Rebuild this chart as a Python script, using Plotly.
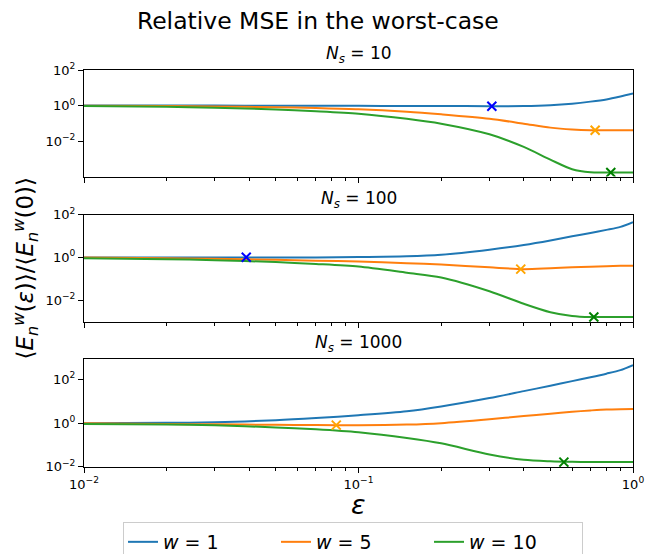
import plotly.graph_objects as go

# ---------------- data ----------------
eps = [0.01, 0.02, 0.03, 0.05, 0.07, 0.1, 0.15, 0.2, 0.3, 0.4, 0.5, 0.6, 0.7, 0.8, 0.9, 1.0]

# N_s = 10
ns10_w1 = [1.0, 1.0, 0.99, 0.98, 0.97, 0.96, 0.95, 0.94, 0.92, 0.94, 1.05, 1.28, 1.66, 2.2, 3.2, 4.7]
ns10_w5 = [0.98, 0.93, 0.88, 0.80, 0.72, 0.62, 0.45, 0.32, 0.18, 0.095, 0.057, 0.045, 0.041, 0.041, 0.041, 0.041]
ns10_w10 = [0.93, 0.85, 0.75, 0.60, 0.48, 0.35, 0.18, 0.095, 0.024, 0.0047, 9e-4, 2.6e-4, 1.75e-4, 1.7e-4, 1.7e-4, 1.7e-4]

# N_s = 100
ns100_w1 = [1.0, 1.0, 1.0, 1.0, 1.0, 1.03, 1.12, 1.33, 2.3, 3.8, 6.2, 9.7, 14.0, 19.5, 27, 45]
ns100_w5 = [0.98, 0.92, 0.86, 0.77, 0.70, 0.64, 0.53, 0.46, 0.34, 0.28, 0.31, 0.34, 0.36, 0.38, 0.40, 0.41]
ns100_w10 = [0.90, 0.82, 0.74, 0.60, 0.49, 0.37, 0.19, 0.115, 0.026, 0.0067, 0.0027, 0.0018, 0.0016, 0.0016, 0.0016, 0.0016]

# N_s = 1000
ns1000_w1 = [1.0, 1.03, 1.1, 1.35, 1.7, 2.3, 3.5, 5.8, 14, 29, 51, 83, 125, 182, 265, 450]
ns1000_w5 = [0.98, 0.92, 0.88, 0.84, 0.82, 0.80, 0.86, 1.0, 1.5, 2.1, 2.7, 3.3, 3.8, 4.2, 4.35, 4.4]
ns1000_w10 = [0.92, 0.86, 0.80, 0.64, 0.52, 0.38, 0.21, 0.12, 0.037, 0.021, 0.018, 0.017, 0.0166, 0.0166, 0.0166, 0.0166]

# worst-case markers (eps, value)
mark10_x = [0.306, 0.728, 0.83]
mark10_y = [0.92, 0.041, 1.7e-4]
mark100_x = [0.039, 0.39, 0.72]
mark100_y = [1.02, 0.28, 0.0016]
mark1000_x = [0.083, 0.56]
mark1000_y = [0.81, 0.0166]

panel_titles = ["<i>N<sub>s</sub></i> = 10", "<i>N<sub>s</sub></i> = 100", "<i>N<sub>s</sub></i> = 1000"]
legend_names = ["<i>w</i> = 1", "<i>w</i> = 5", "<i>w</i> = 10"]
x_tickvals = [0.01, 0.1, 1.0]
x_ticktext = ["10<sup>−2</sup>", "10<sup>−1</sup>", "10<sup>0</sup>"]
y_tickvals = [0.01, 1.0, 100.0]
y_ticktext = ["10<sup>−2</sup>", "10<sup>0</sup>", "10<sup>2</sup>"]

line_colors = ["#1f77b4", "#ff7f0e", "#2ca02c"]

panels = [
    ([ns10_w1, ns10_w5, ns10_w10], (mark10_x, mark10_y, ["blue", "orange", "green"]), [-4.0, 2.0]),
    ([ns100_w1, ns100_w5, ns100_w10], (mark100_x, mark100_y, ["blue", "orange", "green"]), [-3.03, 2.0]),
    ([ns1000_w1, ns1000_w5, ns1000_w10], (mark1000_x, mark1000_y, ["orange", "green"]), [-2.004, 2.93]),
]

domains = [[0.7315, 1.0], [0.3652, 0.6355], [0.0, 0.272]]

fig = go.Figure()
for i, (series, marks, yr) in enumerate(panels):
    xa = "x" if i == 0 else f"x{i+1}"
    ya = "y" if i == 0 else f"y{i+1}"
    for j, ys in enumerate(series):
        fig.add_trace(go.Scatter(
            x=eps, y=ys, mode="lines", xaxis=xa, yaxis=ya,
            line=dict(color=line_colors[j], width=2, shape="spline", smoothing=0.8),
            name=legend_names[j], showlegend=(i == 0), legendgroup=str(j),
        ))
    mx, my, mc = marks
    fig.add_trace(go.Scatter(
        x=mx, y=my, mode="markers", xaxis=xa, yaxis=ya, showlegend=False,
        marker=dict(symbol="x-thin", size=9, color=mc, line=dict(width=2, color=mc)),
    ))

minor_vals = [k * 10.0 ** e for e in (-2, -1) for k in range(2, 10)]
tickfont = dict(family="DejaVu Sans", size=13, color="black")

layout = dict(
    width=646, height=554,
    margin=dict(l=84, r=13, t=70, b=87, autoexpand=False),
    paper_bgcolor="white", plot_bgcolor="white",
    font=dict(family="DejaVu Sans", color="black"),
    title=dict(text="Relative MSE in the worst-case", x=0.492, xanchor="center",
               y=1 - 21 / 554, yanchor="middle", yref="container",
               font=dict(size=23.5, family="DejaVu Sans", color="black")),
    showlegend=True,
    legend=dict(orientation="h", x=0.49, xanchor="center", y=-0.1385, yanchor="top",
                xref="paper", yref="paper",
                font=dict(size=19, family="DejaVu Sans", color="black"),
                bordercolor="#cccccc", borderwidth=1, bgcolor="white",
                entrywidth=108, entrywidthmode="pixels"),
)

annotations = []
for i in range(3):
    xk = "xaxis" if i == 0 else f"xaxis{i+1}"
    yk = "yaxis" if i == 0 else f"yaxis{i+1}"
    ya = "y" if i == 0 else f"y{i+1}"
    layout[xk] = dict(
        type="log", range=[-2, 0], domain=[0, 1], anchor=ya, automargin=False,
        showline=True, mirror=True, linecolor="black", linewidth=1,
        showgrid=False, zeroline=False,
        ticks="outside", ticklen=5, tickwidth=1, tickcolor="black",
        tickvals=x_tickvals, ticktext=x_ticktext,
        showticklabels=(i == 2), tickfont=tickfont,
        minor=dict(tickvals=minor_vals, ticks="outside", ticklen=3, tickwidth=1,
                   tickcolor="black", showgrid=False),
    )
    if i > 0:
        layout[xk]["matches"] = "x"
    layout[yk] = dict(
        type="log", range=panels[i][2], domain=domains[i], anchor="x" if i == 0 else f"x{i+1}",
        automargin=False,
        showline=True, mirror=True, linecolor="black", linewidth=1,
        showgrid=False, zeroline=False,
        ticks="outside", ticklen=5, tickwidth=1, tickcolor="black",
        tickvals=y_tickvals, ticktext=y_ticktext, tickfont=tickfont,
    )
    annotations.append(dict(
        text=panel_titles[i], xref="paper", yref="paper", x=0.5, y=domains[i][1],
        xanchor="center", yanchor="bottom", yshift=2, showarrow=False,
        font=dict(size=17, family="DejaVu Sans", color="black"),
    ))

annotations.append(dict(
    text="⟨<i>E<sub>n</sub><sup>w</sup></i>(<i>ε</i>)⟩/⟨<i>E<sub>n</sub><sup>w</sup></i>(0)⟩",
    xref="paper", yref="paper", x=(25 - 84) / 549, y=0.5, xanchor="center", yanchor="middle",
    textangle=-90, showarrow=False, font=dict(size=23, family="DejaVu Sans", color="black"),
))
annotations.append(dict(
    text="<i>ε</i>", xref="paper", yref="paper", x=0.5, y=(467 - 505) / 397,
    xanchor="center", yanchor="middle", showarrow=False,
    font=dict(size=27, family="DejaVu Sans", color="black"),
))
layout["annotations"] = annotations

fig.update_layout(**layout)
fig.write_html("out.html", config={"displayModeBar": False},
               post_script="document.body.style.margin='0px';")
